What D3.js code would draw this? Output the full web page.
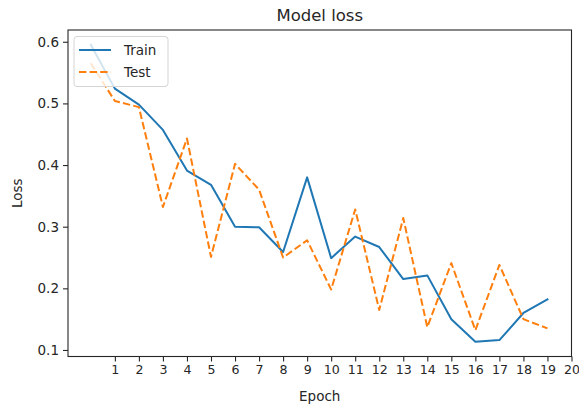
<!DOCTYPE html>
<html>
<head>
<meta charset="utf-8">
<script src="https://cdn.jsdelivr.net/npm/d3@7"></script>
<style>
  html, body { margin: 0; padding: 0; background: #fff; }
  svg { display: block; font-family: "DejaVu Sans", sans-serif; }
</style>
</head>
<body>
<svg id="chart" width="579" height="407"></svg>
<script>
const epochs = [0,1,2,3,4,5,6,7,8,9,10,11,12,13,14,15,16,17,18,19];
const trainLoss = [0.595,0.524,0.498,0.457,0.391,0.368,0.300,0.299,0.259,0.380,0.249,0.284,0.267,0.215,0.221,0.150,0.1135,0.116,0.160,0.182];
const testLoss  = [0.565,0.504,0.494,0.332,0.443,0.251,0.402,0.360,0.250,0.278,0.198,0.328,0.165,0.314,0.137,0.241,0.132,0.238,0.150,0.135];
const xTicks = [1,2,3,4,5,6,7,8,9,10,11,12,13,14,15,16,17,18,19,20];
const yTicks = [0.1,0.2,0.3,0.4,0.5,0.6];
const seriesNames = ["Train","Test"];
const colors = ["#1f77b4","#ff7f0e"];

const svg = d3.select("#chart");
const L = 68, R = 571.5, T = 30, B = 356.5;

const allY = trainLoss.concat(testLoss);
const [ymin, ymax] = d3.extent(allY);
const yr = ymax - ymin;
const x = d3.scaleLinear().domain([-0.95, 20]).range([L, R]);
const y = d3.scaleLinear().domain([ymin - 0.05*yr, ymax + 0.05*yr]).range([B, T]);

const ink = "#262626";

// lines
const line = d3.line().x((d,i) => x(epochs[i])).y(d => y(d));
const g = svg.append("g");
g.append("path").datum(trainLoss).attr("d", line)
  .attr("fill","none").attr("stroke",colors[0]).attr("stroke-width",2)
  .attr("stroke-linejoin","round").attr("stroke-linecap","square");
g.append("path").datum(testLoss).attr("d", line)
  .attr("fill","none").attr("stroke",colors[1]).attr("stroke-width",2)
  .attr("stroke-dasharray","7.4,3.2").attr("stroke-linejoin","round");

// axes
const xAxis = d3.axisBottom(x).tickValues(xTicks).tickSize(5).tickPadding(4).tickFormat(d3.format("d"));
const yAxis = d3.axisLeft(y).tickValues(yTicks).tickSize(5).tickPadding(4).tickFormat(d3.format(".1f"));
const gx = svg.append("g").attr("transform",`translate(0,${B})`).call(xAxis);
const gy = svg.append("g").attr("transform",`translate(${L},0)`).call(yAxis);
[gx, gy].forEach(a => {
  a.select(".domain").remove();
  a.selectAll(".tick line").attr("stroke", ink).attr("stroke-width",1.1);
  a.selectAll(".tick text").attr("fill", ink).style("font-family","DejaVu Sans");
});
gx.selectAll(".tick text").style("font-size","12.6px");
gy.selectAll(".tick text").style("font-size","13.5px");

// frame (spines)
svg.append("rect").attr("x",L).attr("y",T).attr("width",R-L).attr("height",B-T)
  .attr("fill","none").attr("stroke",ink).attr("stroke-width",1.1);

// title and labels
svg.append("text").attr("x",(L+R)/2).attr("y",21).attr("text-anchor","middle")
  .attr("fill",ink).style("font-size","16.5px").text("Model loss");
svg.append("text").attr("x",(L+R)/2).attr("y",401).attr("text-anchor","middle")
  .attr("fill",ink).style("font-size","13.5px").text("Epoch");
svg.append("text").attr("transform",`translate(22,${(T+B)/2}) rotate(-90)`).attr("text-anchor","middle")
  .attr("fill",ink).style("font-size","13.5px").text("Loss");

// legend
const lg = svg.append("g");
lg.append("rect").attr("x",74).attr("y",36.5).attr("width",94).attr("height",50).attr("rx",3)
  .attr("fill","#fff").attr("fill-opacity",0.8).attr("stroke","#d5d5d5").attr("stroke-width",1);
seriesNames.forEach((n,i) => {
  const yy = 50 + i*22;
  lg.append("line").attr("x1",79).attr("x2",111).attr("y1",yy).attr("y2",yy)
    .attr("stroke",colors[i]).attr("stroke-width",2)
    .attr("stroke-dasharray", i===1 ? "7.4,3.2" : null);
  lg.append("text").attr("x",124).attr("y",yy+5).attr("fill",ink)
    .style("font-size","13.5px").text(n);
});
</script>
</body>
</html>
